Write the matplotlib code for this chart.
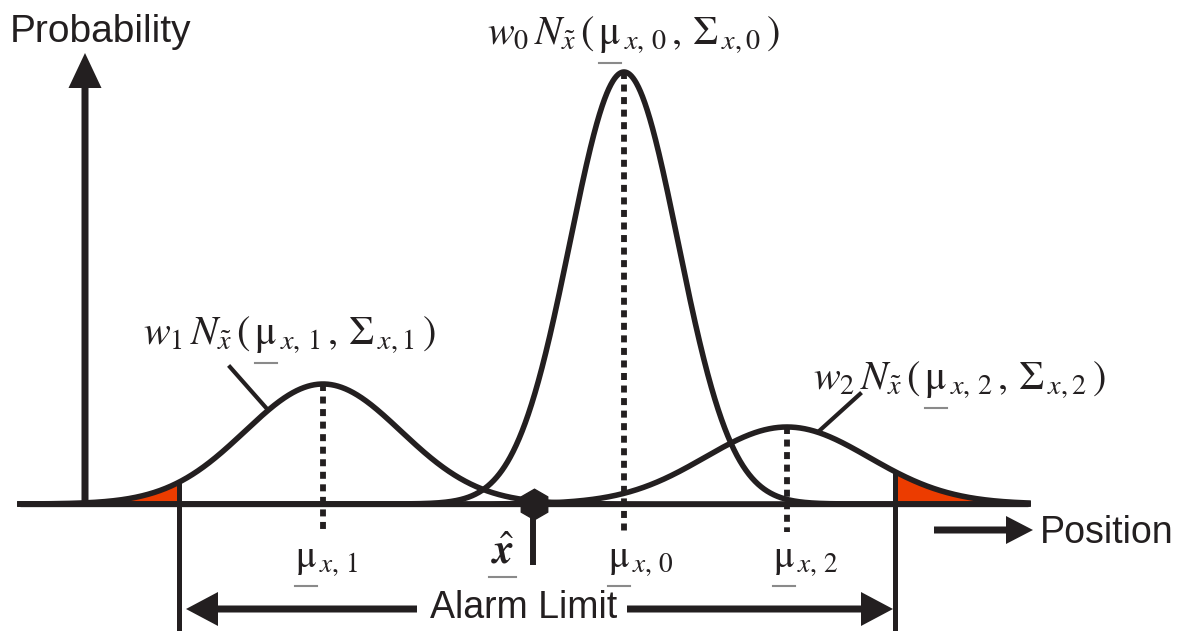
import numpy as np
import matplotlib
matplotlib.use("Agg")
import matplotlib.pyplot as plt

# ---- data (units: position / probability) ----
names = ["0", "1", "2"]
means = [624, 323, 787]          # component means (x position)
sigmas = [54, 78, 82]            # component std-devs
peaks = [432, 120, 77]           # component peak heights (w_i * density)
alarm_limits = [179, 895]        # alarm limit positions
x_hat = 534                      # estimate position
x_range = [20, 1028]             # extent of position axis
y_top = 451                      # top of probability axis arrow

INK = "#231f20"
RED = "#ec3c00"
ULINE = "#8a8a8a"

plt.rcParams["mathtext.fontset"] = "stix"
plt.rcParams["font.family"] = ["Liberation Sans", "DejaVu Sans"]

fig = plt.figure(figsize=(11.9, 6.31), dpi=100)
ax = fig.add_axes([0, 0, 1, 1])
ax.set_xlim(0, 1190)
ax.set_ylim(-127, 504)
ax.axis("off")
renderer = fig.canvas.get_renderer()

x = np.linspace(x_range[0], x_range[1], 3000)

def comp(i, xx):
    return peaks[i] * np.exp(-0.5 * ((xx - means[i]) / sigmas[i]) ** 2)

def width_of(s, fs):
    t = ax.text(0, 0, s, fontsize=fs)
    w = t.get_window_extent(renderer).width
    t.remove()
    return w

# red tails outside alarm limits
m = x <= alarm_limits[0]
ax.fill_between(x[m], 0, comp(1, x[m]), color=RED, lw=0, zorder=1)
m = x >= alarm_limits[1]
ax.fill_between(x[m], 0, comp(2, x[m]), color=RED, lw=0, zorder=1)

# baseline
ax.plot(x_range, [0, 0], color=INK, lw=3.8, solid_capstyle="butt", zorder=3)

# curves
for i in range(3):
    ax.plot(x, comp(i, x), color=INK, lw=4.0, zorder=4)

# dotted mean lines
for i in range(3):
    ax.plot([means[i], means[i]], [peaks[i], -28], color=INK, lw=4.2,
            dashes=(1.2, 0.95), dash_capstyle="butt", zorder=5)

# alarm limit vertical lines
ax.plot([alarm_limits[0]] * 2, [comp(1, alarm_limits[0]), -130], color=INK,
        lw=3.6, zorder=5)
ax.plot([alarm_limits[1]] * 2, [comp(2, alarm_limits[1]), -130], color=INK,
        lw=3.6, zorder=5)

# probability axis arrow
ax.arrow(85, 0, 0, y_top, width=7, head_width=33, head_length=35,
         length_includes_head=True, color=INK, lw=0, zorder=5)

# alarm limit arrows
ya = -105
ax.arrow(417, ya, alarm_limits[0] + 7 - 417, 0, width=7, head_width=34,
         head_length=32, length_includes_head=True, color=INK, lw=0)
ax.arrow(627, ya, alarm_limits[1] - 2 - 627, 0, width=7, head_width=34,
         head_length=32, length_includes_head=True, color=INK, lw=0)
ax.text(524, -114, "Alarm Limit", fontsize=27, color=INK, ha="center",
        va="baseline")

# position arrow
ax.arrow(934, -26, 99, 0, width=7, head_width=28, head_length=27,
         length_includes_head=True, color=INK, lw=0)
ax.text(1040, -39, "Position", fontsize=27, color=INK, ha="left",
        va="baseline")

ax.text(10, 462, "Probability", fontsize=28, color=INK, ha="left",
        va="baseline")

# estimate marker
ax.plot([x_hat - 1, x_hat - 1], [0, -61], color=INK, lw=4.3,
        solid_capstyle="butt", zorder=6)
ax.plot([x_hat], [0], marker="h", ms=22, color=INK, zorder=7)
xh = r"$\hat{\mathbfit{x}}$"
ax.text(491, -59, xh, fontsize=30, color=INK, ha="left", va="baseline")
wxh = width_of(xh, 30)
ax.plot([489, 491 + wxh + 2], [-73, -73], color=ULINE, lw=1.5)

# mean labels
MFS = 28
mu_left = {"1": 295, "0": 608, "2": 773}
wmu = width_of(r"$\mathrm{\mu}$", MFS)
for n in names:
    ax.text(mu_left[n], -63, r"$\mathrm{\mu}_{\,x,\,%s}$" % n,
            fontsize=MFS, color=INK, ha="left", va="baseline")
    ax.plot([mu_left[n], mu_left[n] + wmu], [-82, -82], color=ULINE, lw=1.5)

# component labels
FS = 29
def parts(n):
    pre = r"w_{%s}\,N_{\tilde{x}}\,(\," % n
    mu = r"\mathrm{\mu}"
    post = r"_{\,x,\,%s}\,,\,\Sigma_{\,x,%s}\,)" % (n, n)
    return pre, mu, post

label_pos = {"0": (633, 459), "1": (289, 159), "2": (959, 114)}
wmu_l = width_of(r"$\mathrm{\mu}$", FS)
for n in names:
    cx, by = label_pos[n]
    pre, mu, post = parts(n)
    s = "$" + pre + mu + post + "$"
    w = width_of(s, FS)
    left = cx - w / 2
    ax.text(left, by, s, fontsize=FS, color=INK, ha="left", va="baseline")
    w1 = width_of("$" + pre + mu + "$", FS)
    ax.plot([left + w1 - wmu_l, left + w1], [by - 18, by - 18],
            color=ULINE, lw=1.5)

# pointer lines
ax.plot([230, 268], [504 - 367, 504 - 410], color=INK, lw=3.0)
ax.plot([860, 818], [504 - 394, 504 - 432], color=INK, lw=3.0)

fig.savefig("out.png", dpi=100)
